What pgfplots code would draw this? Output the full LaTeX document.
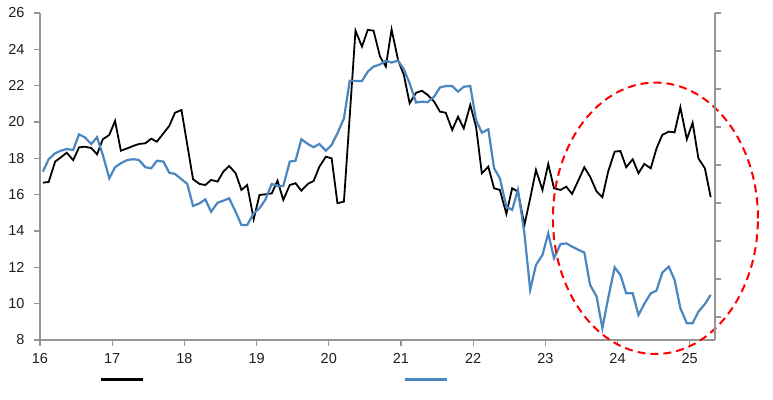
\documentclass[border=0pt]{standalone}
\usepackage{pgfplots}
\pgfplotsset{compat=1.18}
\usepackage{pgfplotstable}
\usepackage{fontspec}
\setmainfont{Liberation Sans}
\definecolor{axgray}{RGB}{150,150,150}
\definecolor{lblue}{RGB}{74,134,192}
\definecolor{ticktext}{RGB}{30,30,30}

\pgfplotstableread{
x black blue
16.04 16.66 17.27
16.12 16.70 17.95
16.21 17.82 18.28
16.29 18.06 18.42
16.37 18.31 18.51
16.46 17.90 18.46
16.54 18.60 19.32
16.62 18.64 19.16
16.71 18.57 18.79
16.79 18.22 19.16
16.87 19.05 18.19
16.96 19.29 16.90
17.04 20.06 17.51
17.12 18.42 17.73
17.21 18.55 17.91
17.29 18.68 17.95
17.37 18.79 17.91
17.46 18.83 17.51
17.54 19.08 17.45
17.62 18.92 17.87
17.71 19.38 17.82
17.79 19.78 17.21
17.87 20.51 17.14
17.96 20.66 16.85
18.04 18.74 16.59
18.12 16.85 15.38
18.21 16.59 15.52
18.29 16.53 15.74
18.37 16.81 15.06
18.46 16.72 15.56
18.54 17.27 15.67
18.62 17.58 15.80
18.71 17.18 15.06
18.79 16.26 14.33
18.87 16.53 14.33
18.96 14.65 14.97
19.04 15.98 15.25
19.12 16.02 15.71
19.21 16.07 16.59
19.29 16.77 16.48
19.37 15.71 16.48
19.46 16.53 17.82
19.54 16.63 17.87
19.62 16.22 19.05
19.71 16.59 18.79
19.79 16.75 18.61
19.87 17.54 18.79
19.96 18.09 18.42
20.04 18.00 18.74
20.12 15.53 19.38
20.21 15.62 20.20
20.29 20.30 22.27
20.37 25.03 22.26
20.46 24.15 22.26
20.54 25.07 22.77
20.62 25.03 23.05
20.71 23.60 23.17
20.79 23.05 23.38
20.87 25.10 23.27
20.96 23.41 23.38
21.04 22.59 22.90
21.12 21.03 22.13
21.21 21.61 21.07
21.29 21.72 21.12
21.37 21.49 21.09
21.46 21.12 21.40
21.54 20.57 21.90
21.62 20.51 21.98
21.71 19.56 21.98
21.79 20.29 21.67
21.87 19.65 21.94
21.96 20.94 21.98
22.04 19.74 20.11
22.12 17.18 19.41
22.21 17.54 19.60
22.29 16.35 17.45
22.37 16.26 16.90
22.46 14.94 15.34
22.54 16.35 15.16
22.62 16.17 16.26
22.71 14.33 13.87
22.79 15.80 10.76
22.87 17.36 12.13
22.96 16.26 12.68
23.04 17.69 13.87
23.12 16.35 12.50
23.21 16.26 13.28
23.29 16.44 13.32
23.37 16.04 13.14
23.46 16.81 12.96
23.54 17.51 12.81
23.62 16.99 11.03
23.71 16.17 10.39
23.79 15.86 8.65
23.87 17.27 10.30
23.96 18.37 12.00
24.04 18.40 11.58
24.12 17.51 10.57
24.21 17.95 10.57
24.29 17.18 9.38
24.37 17.69 9.98
24.46 17.45 10.57
24.54 18.55 10.72
24.62 19.29 11.71
24.71 19.47 12.04
24.79 19.43 11.31
24.87 20.81 9.75
24.96 19.05 8.92
25.04 19.96 8.92
25.12 18.00 9.56
25.21 17.45 9.98
25.29 15.86 10.48
}\data

\begin{document}
\begin{tikzpicture}[x=1pt,y=1pt]
\path[use as bounding box] (0,0) rectangle (773,399);
\begin{axis}[
  at={(40pt,59pt)}, anchor=south west,
  width=675pt, height=327pt, scale only axis,
  xmin=16, xmax=25.35, ymin=8, ymax=26,
  axis x line*=bottom, axis y line*=left,
  axis line style={axgray, line width=1.3pt, -},
  tick style={axgray, line width=1.3pt},
  tick align=outside, major tick length=6pt,
  xtick={16,...,25}, ytick={8,10,...,26},
  ticklabel style={font=\fontsize{14.5}{16}\selectfont, text=ticktext},
  xticklabel style={yshift=-4pt},
  yticklabel style={xshift=-6pt},
  /pgf/number format/assume math mode=true,
  clip=false,
  legend columns=2,
  legend style={at={(0.3467,-0.1223)}, anchor=center, draw=none, fill=none,
    inner sep=0pt, outer sep=0pt, nodes={inner sep=0pt},
    /tikz/every even column/.append style={column sep=258pt}},
  legend image code/.code={\draw[#1, line width=3pt] (0pt,0pt) -- (42pt,0pt);},
]
\addplot[black, line width=1.8pt] table[x=x,y=black]{\data};
\addlegendentry{}
\addplot[lblue, line width=2.2pt] table[x=x,y=blue]{\data};
\addlegendentry{}
\draw[red, line width=2pt, dash pattern=on 8pt off 5pt] (axis cs:24.525,14.70) ellipse [x radius=102.5pt, y radius=135.7pt];
\end{axis}
\begin{axis}[
  at={(40pt,59pt)}, anchor=south west,
  width=675pt, height=327pt, scale only axis,
  xmin=16, xmax=25.35, ymin=0.395, ymax=9,
  axis y line*=right, axis x line=none,
  axis line style={axgray, line width=1.3pt, -},
  tick style={axgray, line width=1.3pt},
  tick align=outside, major tick length=6pt,
  ytick={1,...,9}, yticklabels={},
]
\end{axis}
\end{tikzpicture}
\end{document}
